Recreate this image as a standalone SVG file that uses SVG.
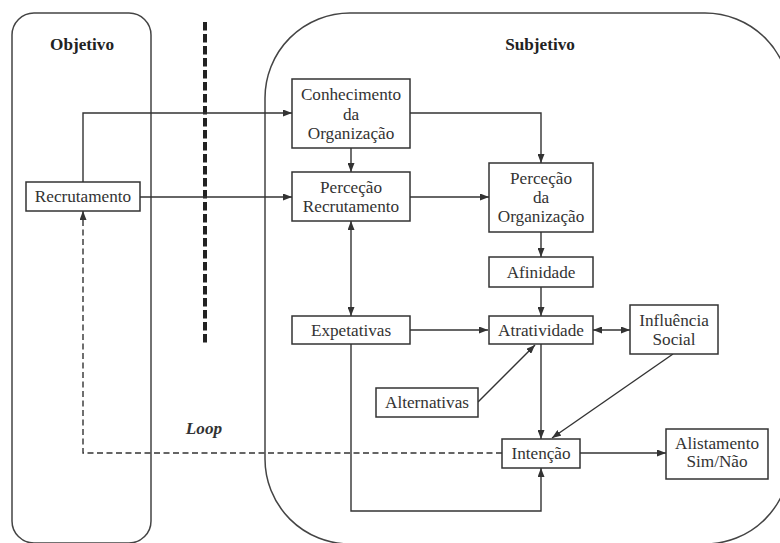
<svg xmlns="http://www.w3.org/2000/svg" width="780" height="543" viewBox="0 0 780 543">
<defs>
<marker id="ah" viewBox="0 0 9 7" refX="9" refY="3.5" markerWidth="9" markerHeight="7" markerUnits="userSpaceOnUse" orient="auto-start-reverse">
<path d="M0,0 L9,3.5 L0,7 z" fill="#333"/>
</marker>
<style>
.panel{fill:none;stroke:#444;stroke-width:1.5}
.box{fill:#fff;stroke:#333;stroke-width:1.5}
.t{font-family:"Liberation Serif","Times New Roman",serif;font-size:17.2px;fill:#333;text-anchor:middle}
.h{font-weight:bold;fill:#222}
.c{fill:none;stroke:#333;stroke-width:1.4}
.a{marker-end:url(#ah)}
.b{marker-start:url(#ah);marker-end:url(#ah)}
.d{stroke-dasharray:6 3.5}
</style>
</defs>
<rect width="780" height="543" fill="#fff"/>
<g id="panel-objetivo">
<rect class="panel" x="12" y="13" width="139" height="530" rx="22" ry="22"/>
<text class="t h" x="82" y="50">Objetivo</text>
</g>
<g id="panel-subjetivo">
<rect class="panel" x="265" y="13" width="525" height="531" rx="85" ry="85"/>
<text class="t h" x="540" y="50">Subjetivo</text>
</g>
<g id="divider">
<line x1="205" y1="22" x2="205" y2="345" stroke="#222" stroke-width="4" stroke-dasharray="8.5 3.5"/>
</g>
<g id="connectors">
<path class="c a" d="M83,182 V113 H292"/>
<path class="c a" d="M140,197 H292"/>
<path class="c a" d="M351,148 V172"/>
<path class="c a" d="M410,113 H541 V163"/>
<path class="c a" d="M410,197 H489"/>
<path class="c b" d="M351,221 V316"/>
<path class="c a" d="M541,232 V257"/>
<path class="c a" d="M541,287 V316"/>
<path class="c a" d="M410,330 H488"/>
<path class="c b" d="M593,330 H630"/>
<path class="c a" d="M478,402 L535,345"/>
<path class="c a" d="M673,354 L552,438"/>
<path class="c a" d="M541,344 V439"/>
<path class="c a" d="M351,344 V511 H541 V468"/>
<path class="c a" d="M580,453 H666"/>
<path class="c a d" d="M502,453 H83 V211"/>
<text class="t" x="204" y="434" font-weight="bold" font-style="italic" fill="#222">Loop</text>
</g>
<g id="recrutamento">
<rect class="box" x="26" y="182" width="114" height="29"/>
<text class="t" x="83" y="202">Recrutamento</text>
</g>
<g id="conhecimento">
<rect class="box" x="292" y="79" width="118" height="69"/>
<text class="t" x="351" y="100">Conhecimento</text>
<text class="t" x="351" y="119.5">da</text>
<text class="t" x="351" y="139">Organização</text>
</g>
<g id="percecao-recrutamento">
<rect class="box" x="292" y="172" width="118" height="49"/>
<text class="t" x="351" y="193">Perceção</text>
<text class="t" x="351" y="212">Recrutamento</text>
</g>
<g id="percecao-organizacao">
<rect class="box" x="489" y="163" width="104" height="69"/>
<text class="t" x="541" y="184">Perceção</text>
<text class="t" x="541" y="203">da</text>
<text class="t" x="541" y="222">Organização</text>
</g>
<g id="afinidade">
<rect class="box" x="489" y="257" width="104" height="30"/>
<text class="t" x="541" y="278">Afinidade</text>
</g>
<g id="expetativas">
<rect class="box" x="292" y="316" width="118" height="28"/>
<text class="t" x="351" y="336">Expetativas</text>
</g>
<g id="atratividade">
<rect class="box" x="489" y="316" width="104" height="28"/>
<text class="t" x="541" y="336">Atratividade</text>
</g>
<g id="influencia">
<rect class="box" x="630" y="305" width="88" height="49"/>
<text class="t" x="674" y="326">Influência</text>
<text class="t" x="674" y="345">Social</text>
</g>
<g id="alternativas">
<rect class="box" x="376" y="388" width="102" height="29"/>
<text class="t" x="427" y="408">Alternativas</text>
</g>
<g id="intencao">
<rect class="box" x="502" y="439" width="78" height="29"/>
<text class="t" x="541" y="459">Intenção</text>
</g>
<g id="alistamento">
<rect class="box" x="666" y="429" width="102" height="50"/>
<text class="t" x="717" y="449">Alistamento</text>
<text class="t" x="717" y="467">Sim/Não</text>
</g>
</svg>
